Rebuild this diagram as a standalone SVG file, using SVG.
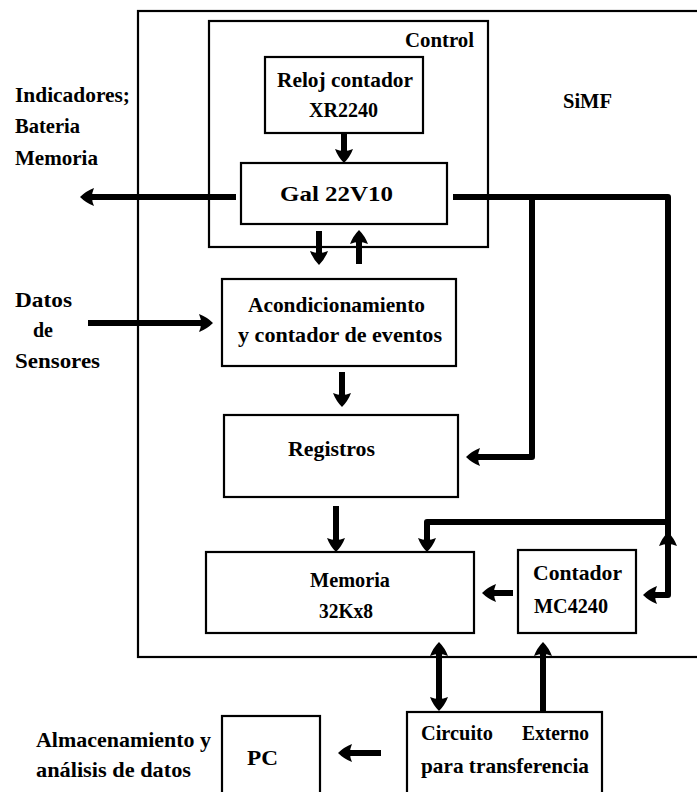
<svg xmlns="http://www.w3.org/2000/svg" width="697" height="792" viewBox="0 0 697 792">
  <style>
    .box { fill: none; stroke: #000; stroke-width: 2.2; }
    .wire { fill: none; stroke: #000; stroke-width: 6; stroke-linejoin: round; }
    .lbl { font-family: "Liberation Serif", "Times New Roman", serif; font-weight: bold; font-size: 22px; fill: #000; }
  </style>
  <defs>
    <!-- rounded arrowhead; tip sits 8px beyond the end of the line -->
    <marker id="ah" markerUnits="userSpaceOnUse" markerWidth="28" markerHeight="24" viewBox="-8 -12 28 24" refX="0" refY="0" orient="auto-start-reverse">
      <path d="M-6,-9 Q2,-6 8,0 Q2,6 -6,9 Q-2,0 -6,-9 Z" fill="#000"/>
    </marker>
  </defs>
  <rect width="697" height="792" fill="#fff"/>

  <!-- SiMF enclosure -->
  <g id="simf">
    <rect class="box" x="138" y="11" width="620" height="646"/>
    <text class="lbl" x="563" y="108" textLength="49" lengthAdjust="spacingAndGlyphs">SiMF</text>
  </g>

  <!-- Control block -->
  <g id="control">
    <rect class="box" x="209" y="21" width="279" height="226"/>
    <text class="lbl" x="405" y="47" textLength="69" lengthAdjust="spacingAndGlyphs">Control</text>
  </g>

  <g id="reloj">
    <rect class="box" x="265" y="57" width="158" height="76"/>
    <text class="lbl" x="277" y="87" textLength="136" lengthAdjust="spacingAndGlyphs">Reloj contador</text>
    <text class="lbl" x="309" y="117" textLength="69" lengthAdjust="spacingAndGlyphs">XR2240</text>
  </g>

  <g id="gal">
    <rect class="box" x="241" y="163" width="206" height="61"/>
    <text class="lbl" x="280" y="201" textLength="113" lengthAdjust="spacingAndGlyphs">Gal 22V10</text>
  </g>

  <g id="acondicionamiento">
    <rect class="box" x="222" y="279" width="234" height="87"/>
    <text class="lbl" x="248" y="312" textLength="177" lengthAdjust="spacingAndGlyphs">Acondicionamiento</text>
    <text class="lbl" x="238" y="342" textLength="204" lengthAdjust="spacingAndGlyphs">y contador de eventos</text>
  </g>

  <g id="registros">
    <rect class="box" x="224" y="415" width="234" height="82"/>
    <text class="lbl" x="288" y="456" textLength="87" lengthAdjust="spacingAndGlyphs">Registros</text>
  </g>

  <g id="memoria">
    <rect class="box" x="206" y="552" width="268" height="81"/>
    <text class="lbl" x="310" y="587" textLength="80" lengthAdjust="spacingAndGlyphs">Memoria</text>
    <text class="lbl" x="319" y="618" textLength="54" lengthAdjust="spacingAndGlyphs">32Kx8</text>
  </g>

  <g id="contador">
    <rect class="box" x="518" y="550" width="118" height="83"/>
    <text class="lbl" x="533" y="580" textLength="89" lengthAdjust="spacingAndGlyphs">Contador</text>
    <text class="lbl" x="534" y="613" textLength="74" lengthAdjust="spacingAndGlyphs">MC4240</text>
  </g>

  <g id="pc">
    <rect class="box" x="222" y="716" width="98" height="90"/>
    <text class="lbl" x="247" y="765" textLength="31" lengthAdjust="spacingAndGlyphs">PC</text>
  </g>

  <g id="circuito">
    <rect class="box" x="407" y="712" width="195" height="94"/>
    <text class="lbl" x="421" y="740" textLength="72" lengthAdjust="spacingAndGlyphs">Circuito</text>
    <text class="lbl" x="522" y="740" textLength="67" lengthAdjust="spacingAndGlyphs">Externo</text>
    <text class="lbl" x="421" y="773" textLength="168" lengthAdjust="spacingAndGlyphs">para transferencia</text>
  </g>

  <!-- external labels -->
  <g id="indicadores">
    <text class="lbl" x="15" y="102" textLength="115" lengthAdjust="spacingAndGlyphs">Indicadores;</text>
    <text class="lbl" x="15" y="133" textLength="65" lengthAdjust="spacingAndGlyphs">Bateria</text>
    <text class="lbl" x="15" y="165" textLength="83" lengthAdjust="spacingAndGlyphs">Memoria</text>
  </g>
  <g id="sensores">
    <text class="lbl" x="15" y="307" textLength="57" lengthAdjust="spacingAndGlyphs">Datos</text>
    <text class="lbl" x="33" y="337" textLength="20" lengthAdjust="spacingAndGlyphs">de</text>
    <text class="lbl" x="15" y="368" textLength="85" lengthAdjust="spacingAndGlyphs">Sensores</text>
  </g>
  <g id="almacenamiento">
    <text class="lbl" x="36" y="747" textLength="175" lengthAdjust="spacingAndGlyphs">Almacenamiento y</text>
    <text class="lbl" x="36" y="777" textLength="155" lengthAdjust="spacingAndGlyphs">análisis de datos</text>
  </g>

  <!-- connectors -->
  <g id="connectors">
    <path class="wire" d="M344 133 V155" marker-end="url(#ah)"/>
    <path class="wire" d="M236 197 H88" marker-end="url(#ah)"/>
    <path class="wire" d="M453 197 H668 V595 H651" marker-end="url(#ah)"/>
    <path class="wire" d="M668 545 V540" marker-end="url(#ah)"/>
    <path class="wire" d="M532 197 V457 H474" marker-end="url(#ah)"/>
    <path class="wire" d="M668 522 H427 V544" marker-end="url(#ah)"/>
    <path class="wire" d="M319 231 V257" marker-end="url(#ah)"/>
    <path class="wire" d="M359 264 V238" marker-end="url(#ah)"/>
    <path class="wire" d="M88 323 H205" marker-end="url(#ah)"/>
    <path class="wire" d="M342 372 V399" marker-end="url(#ah)"/>
    <path class="wire" d="M336 506 V544" marker-end="url(#ah)"/>
    <path class="wire" d="M513 593 H490" marker-end="url(#ah)"/>
    <path class="wire" d="M439 650 V703" marker-start="url(#ah)" marker-end="url(#ah)"/>
    <path class="wire" d="M543 711 V650" marker-end="url(#ah)"/>
    <path class="wire" d="M381 753 H346" marker-end="url(#ah)"/>
  </g>
</svg>
